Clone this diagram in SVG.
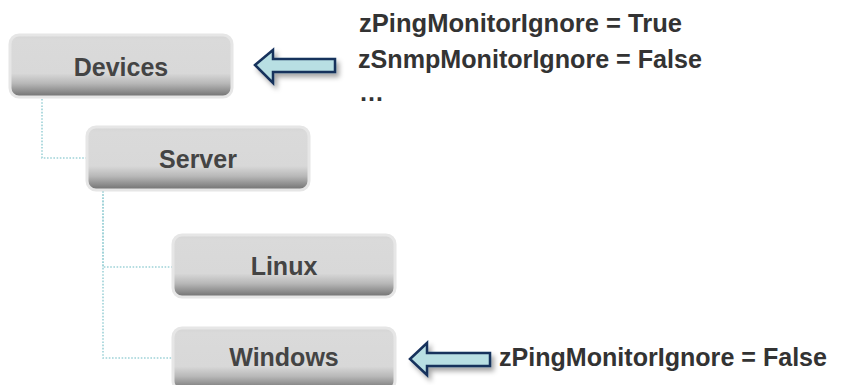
<svg xmlns="http://www.w3.org/2000/svg" width="844" height="385" viewBox="0 0 844 385">
<defs>
<linearGradient id="boxGrad" x1="0" y1="0" x2="0" y2="1">
<stop offset="0" stop-color="#d4d4d4"/>
<stop offset="0.08" stop-color="#dadada"/>
<stop offset="0.62" stop-color="#d8d8d8"/>
<stop offset="0.78" stop-color="#b8b8b8"/>
<stop offset="0.92" stop-color="#8a8a8a"/>
<stop offset="1" stop-color="#6f6f6f"/>
</linearGradient>
<filter id="arrowShadow" x="-20%" y="-30%" width="150%" height="180%">
<feDropShadow dx="3" dy="4" stdDeviation="2.5" flood-color="#000" flood-opacity="0.35"/>
</filter>
</defs>
<style>
.box{fill:url(#boxGrad);stroke:#e6e6e6;stroke-width:3}
.lbl{font-family:"Liberation Sans",Arial,sans-serif;font-weight:bold;font-size:25px;fill:#444;text-anchor:middle}
.ann{font-family:"Liberation Sans",Arial,sans-serif;font-weight:bold;font-size:25px;fill:#333}
.conn{fill:none;stroke:#9ed2d8;stroke-width:1.6;stroke-dasharray:1.6 1.6}
.arrow{fill:#b8dfe3;stroke:#17315c;stroke-width:2.5;stroke-linejoin:miter;filter:url(#arrowShadow)}
</style>
<g id="connectors">
<path class="conn" d="M42 99 V158 H87"/>
<path class="conn" d="M103 191 V267 H173"/>
<path class="conn" d="M103 191 V358 H173"/>
</g>
<g id="devices">
<rect class="box" x="10" y="35" width="222" height="62" rx="9"/>
<text class="lbl" x="121" y="76">Devices</text>
</g>
<g id="server">
<rect class="box" x="87" y="127" width="222" height="63" rx="9"/>
<text class="lbl" x="198" y="168">Server</text>
</g>
<g id="linux">
<rect class="box" x="173" y="235" width="222" height="62" rx="9"/>
<text class="lbl" x="284" y="275">Linux</text>
</g>
<g id="windows">
<rect class="box" x="173" y="328" width="222" height="62" rx="9"/>
<text class="lbl" x="284" y="366">Windows</text>
</g>
<g id="arrow-devices">
<polygon class="arrow" points="255,65 273,50 273,59 335,59 335,72 273,72 273,83"/>
</g>
<g id="arrow-windows">
<polygon class="arrow" points="410,359 427,343 427,353 490,353 490,366 427,366 427,375"/>
</g>
<g id="annotations">
<text class="ann" x="359" y="32" textLength="323" lengthAdjust="spacingAndGlyphs">zPingMonitorIgnore = True</text>
<text class="ann" x="358" y="68" textLength="344" lengthAdjust="spacingAndGlyphs">zSnmpMonitorIgnore = False</text>
<text class="ann" x="359" y="101">…</text>
<text class="ann" x="499" y="366" textLength="328" lengthAdjust="spacingAndGlyphs">zPingMonitorIgnore = False</text>
</g>
</svg>
